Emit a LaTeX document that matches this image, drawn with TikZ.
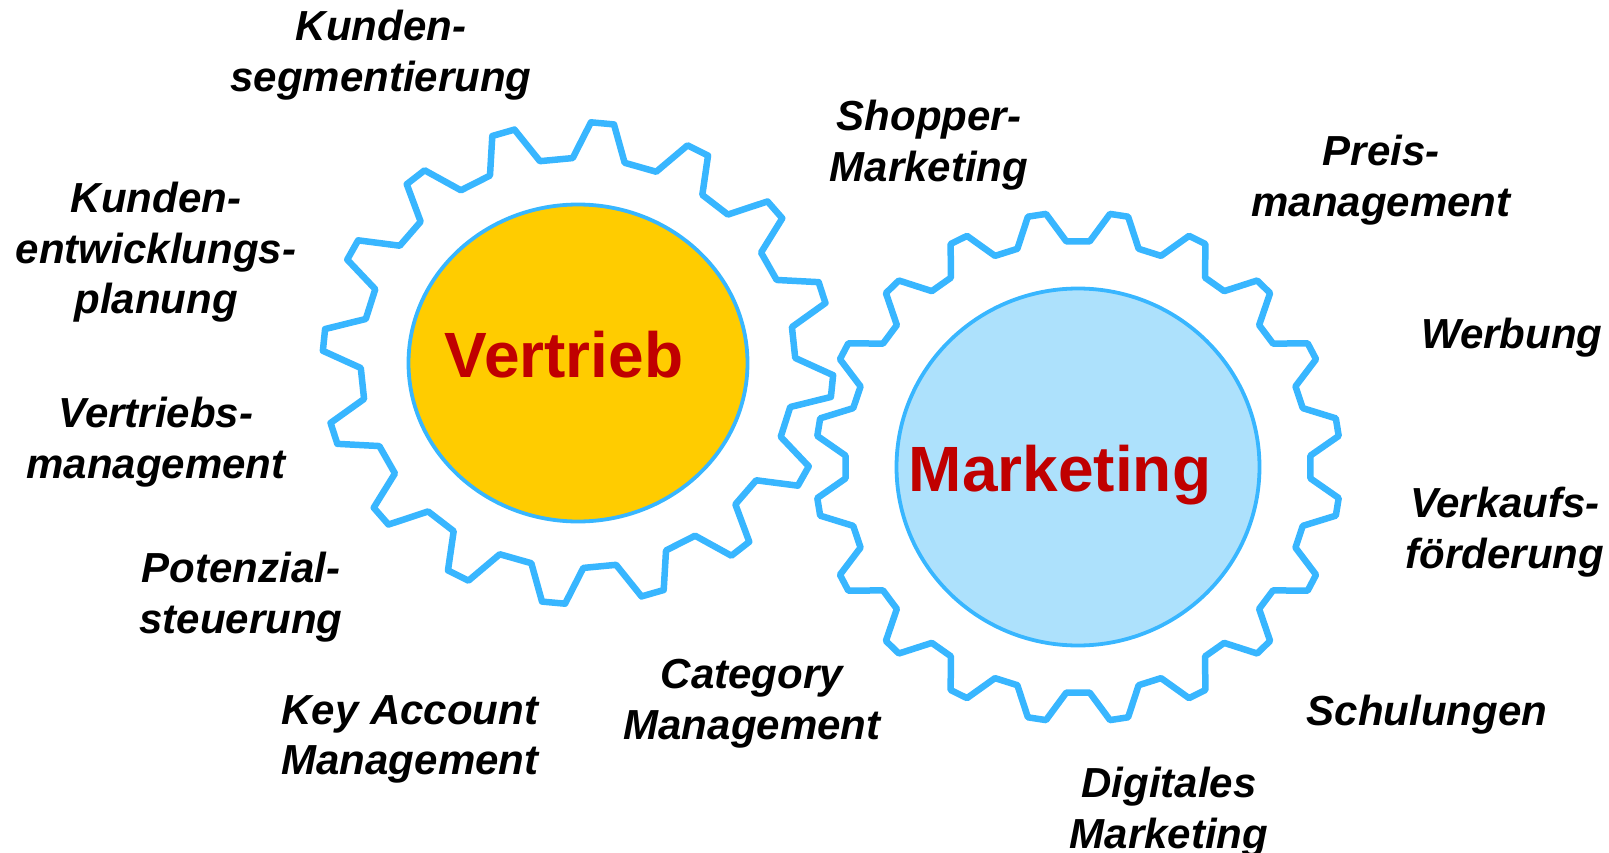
\documentclass[tikz,border=0pt]{standalone}
\usepackage{fontspec}
\setmainfont{Liberation Sans}
\usetikzlibrary{calc}

\definecolor{gearblue}{RGB}{56,182,255}
\definecolor{vertriebgold}{RGB}{255,204,0}
\definecolor{marketingblue}{RGB}{173,225,252}
\definecolor{titlered}{RGB}{192,0,0}

\tikzset{
  gear/.style={draw=gearblue,line width=6.5pt,line join=round},
  hub/.style={draw=gearblue,line width=3.8pt},
  gearname/.style={text=titlered,font=\fontsize{64}{64}\selectfont\bfseries,anchor=base,inner sep=0pt},
  task/.style={font=\fontsize{42}{50.5}\selectfont\bfseries\itshape,align=center,anchor=north,inner sep=0pt}
}

\begin{document}
\begin{tikzpicture}[x=1pt,y=-1pt]
\useasboundingbox (0,0) rectangle (1609,853);
\coordinate (V) at (578,363);
\coordinate (M) at (1078,467);

% Vertrieb gear, 16 teeth
\begin{scope}[shift={(V)},xscale=1.06]
\draw[gear] (349.9:205) \foreach \a in {5.5,28,...,343}{
  -- ({\a-6.9}:205) -- ({\a-2.6}:241) -- ({\a+2.6}:241) -- ({\a+6.9}:205)} -- cycle;
\end{scope}
\filldraw[hub,fill=vertriebgold] (V) ellipse [x radius=169.5,y radius=158.5];
\node[gearname] (vertrieb) at (564,377) {Vertrieb};

% Marketing gear, 20 teeth
\begin{scope}[shift={(M)},xscale=1.03]
\draw[gear] (357.1:226) \foreach \a in {9,27,...,351}{
  -- ({\a-6.1}:226) -- ({\a-2}:255) -- ({\a+2}:255) -- ({\a+6.1}:226)} -- cycle;
\end{scope}
\filldraw[hub,fill=marketingblue] (M) ellipse [x radius=181.5,y radius=178.5];
\node[gearname] (marketing) at (1060,491) {Marketing};

% Vertrieb tasks
\node[task] (kseg) at (381,10) {Kunden-\\segmentierung};
\node[task] (kentw) at (156,182) {Kunden-\\entwicklungs-\\planung};
\node[task] (vmgmt) at (156,397) {Vertriebs-\\management};
\node[task] (potst) at (241,552) {Potenzial-\\steuerung};
\node[task] (kam) at (410,695) {Key Account\\Management};
\node[task] (catm) at (752,659) {Category\\Management};

% Marketing tasks
\node[task] (shop) at (929,100) {Shopper-\\Marketing};
\node[task] (preis) at (1381,135) {Preis-\\management};
\node[task] (werb) at (1512,318) {Werbung};
\node[task] (verk) at (1505,487) {Verkaufs-\\förderung};
\node[task] (schul) at (1427,695) {Schulungen};
\node[task] (digi) at (1169,767) {Digitales\\Marketing};
\end{tikzpicture}
\end{document}
